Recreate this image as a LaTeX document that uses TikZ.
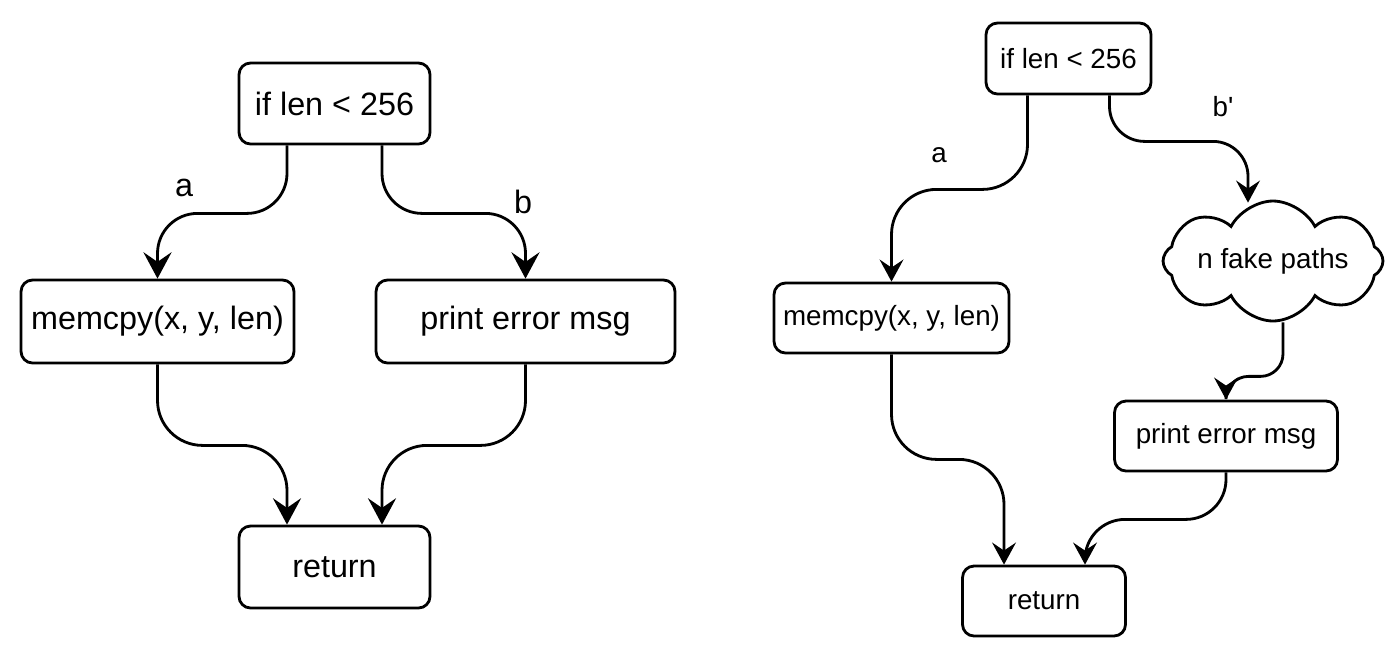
\documentclass[tikz,border=0pt]{standalone}
\usepackage{fontspec}
\setmainfont{Liberation Sans}
\usetikzlibrary{arrows.meta,calc,shapes.symbols}

\begin{document}
\begin{tikzpicture}[x=0.02cm, y=-0.02cm, line width=1.6pt,
    box/.style={draw, rectangle, rounded corners=0.23cm, inner sep=0pt},
    flow/.style={-{Stealth[length=15pt,width=16pt,inset=5.5pt]}, rounded corners=0.8cm},
    flowsmall/.style={-{Stealth[length=12.5pt,width=13.5pt,inset=4.5pt]}, rounded corners=0.8cm},
    big/.style={font=\fontsize{18.4}{22}\selectfont},
    small/.style={font=\fontsize{15.8}{19}\selectfont}]
    \useasboundingbox (0,0) rectangle (1385,647);

    % left graph
    \node[box, big, minimum width=3.82cm, minimum height=1.62cm] (IF1) at (334.5,103.5) {if len < 256};
    \node[box, big, minimum width=5.46cm, minimum height=1.66cm] (MEM1) at (157.5,321.5) {memcpy(x, y, len)};
    \node[box, big, minimum width=5.98cm, minimum height=1.66cm] (ERR1) at (525.5,321.5) {print error msg};
    \node[box, big, minimum width=3.82cm, minimum height=1.64cm] (RET1) at (334.5,567) {return};

    \draw[flow] ($(IF1.south)+(-47.5,0)$) -- ++(0,68) -| (MEM1.north);
    \draw[flow] ($(IF1.south)+(47.5,0)$) -- ++(0,68) -| (ERR1.north);
    \draw[flow, rounded corners=0.9cm] (MEM1.south) -- ++(0,81) -| ($(RET1.north)+(-47.5,0)$);
    \draw[flow, rounded corners=0.9cm] (ERR1.south) -- ++(0,81) -| ($(RET1.north)+(47.5,0)$);

    \node[big] (TEXTA1) at (184,188) {a};
    \node[big] (TEXTB1) at (523,202) {b};

    % right graph
    \node[box, small, minimum width=3.30cm, minimum height=1.42cm] (IF2) at (1068.5,58.5) {if len < 256};
    \node[box, small, minimum width=4.70cm, minimum height=1.40cm] (MEM2) at (891.5,318) {memcpy(x, y, len)};
    \node[draw, cloud, cloud puffs=8, cloud puff arc=125, cloud ignores aspect, inner sep=0pt, small,
          minimum width=4.40cm, minimum height=2.40cm] (FAKE) at (1273,261) {n fake paths};
    \node[box, small, minimum width=4.46cm, minimum height=1.40cm] (ERR2) at (1226,436) {print error msg};
    \node[box, small, minimum width=3.26cm, minimum height=1.40cm] (RET2) at (1044,601) {return};

    \draw[flowsmall, rounded corners=0.9cm] ($(IF2.south)+(-41,0)$) -- ++(0,94) -| (MEM2.north);
    \draw[flowsmall, rounded corners=0.7cm] ($(IF2.south)+(41,0)$) -- ++(0,46) -| ($(FAKE.north)+(-25,3)$);
    \draw[flowsmall, rounded corners=0.45cm] ($(FAKE.south)+(10,0)$) -- ++(0,54) -| (ERR2.north);
    \draw[flowsmall, rounded corners=0.9cm] (MEM2.south) -- ++(0,105) -| ($(RET2.north)+(-40,0)$);
    \draw[flowsmall, rounded corners=0.8cm] (ERR2.south) -- ++(0,47) -| ($(RET2.north)+(41,0)$);

    \node[small] (TEXTA2) at (939,155) {a};
    \node[small] (TEXTB2) at (1223,107) {b\textquotesingle};
\end{tikzpicture}
\end{document}
